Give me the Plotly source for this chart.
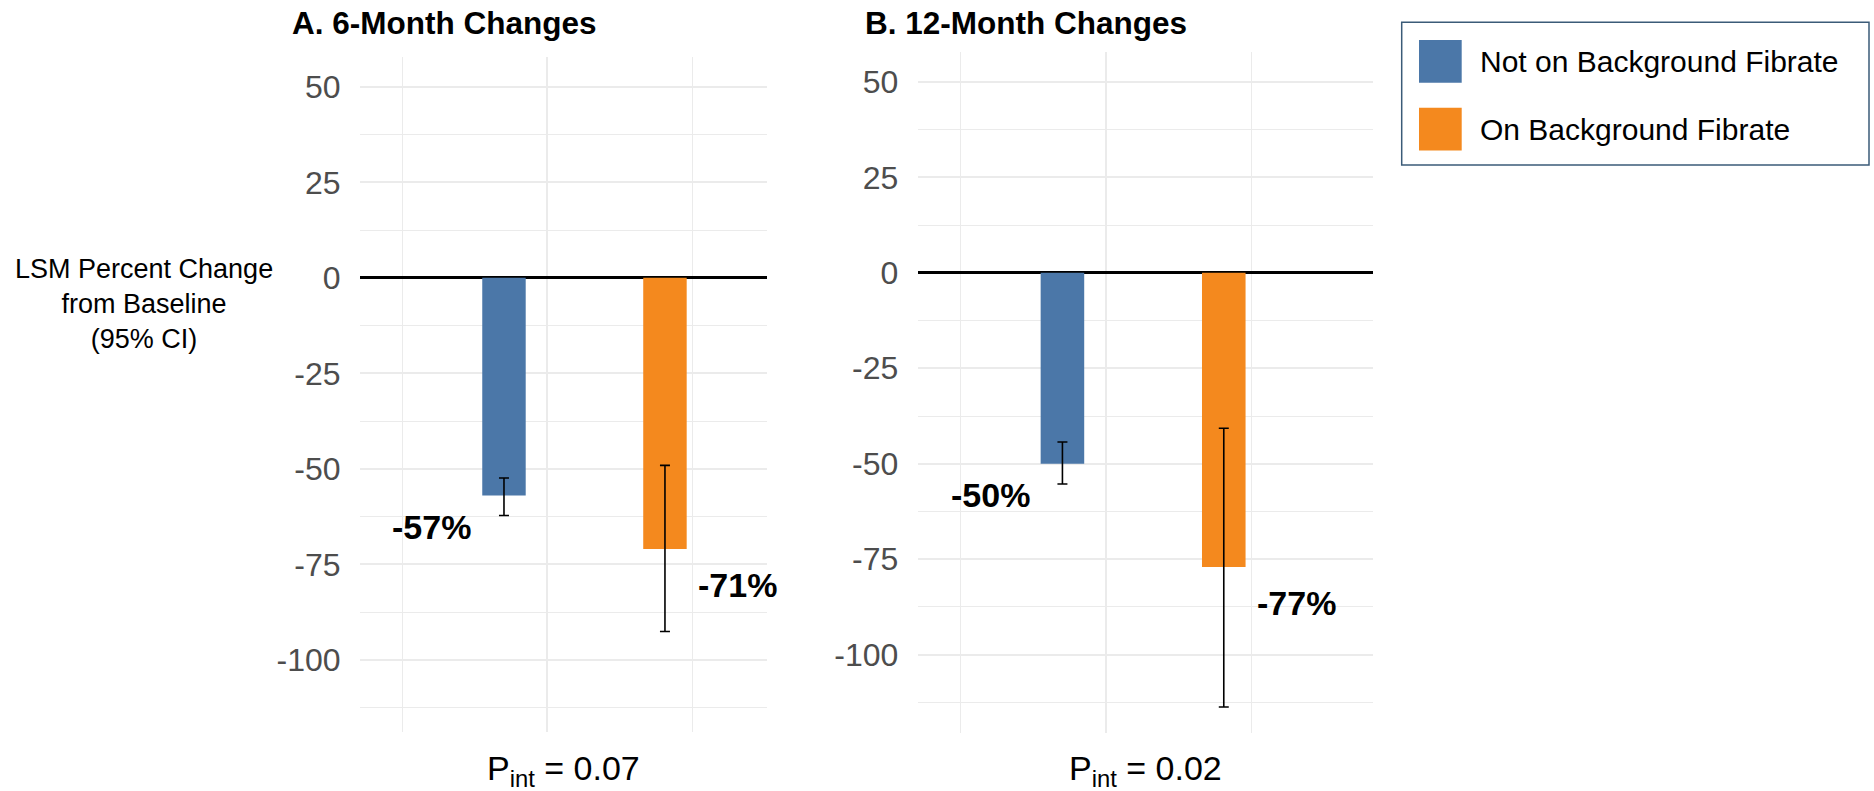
import plotly.graph_objects as go

# ---- data -----------------------------------------------------------------
groups = ["Not on Background Fibrate", "On Background Fibrate"]
panel_titles = ["A. 6-Month Changes", "B. 12-Month Changes"]
p_interaction = ["0.07", "0.02"]

# LSM percent change from baseline with 95% CI, ordered as in `groups`
change_6m = [-57, -71]
ci_low_6m = [-62.2, -92.6]
ci_high_6m = [-52.4, -49.1]

change_12m = [-50, -77]
ci_low_12m = [-55.3, -113.7]
ci_high_12m = [-44.3, -40.7]

y_tick_values = [50, 25, 0, -25, -50, -75, -100]

# ---- styling ----------------------------------------------------------------
W, H = 1874, 791
FONT = "Arial, Liberation Sans, Helvetica, sans-serif"
group_colors = ["#4B77A8", "#F4891E"]
label_shift = [(-72, -31), (73, -36)]   # (xshift, yshift) of the value labels
GRID = "#EBEBEB"

panels = [
    dict(change=change_6m, lo=ci_low_6m, hi=ci_high_6m,
         px=(360.0, 766.7), py=(56.7, 732.0),
         xrange=[0.1056, 2.632], yrange=[-118.9, 57.9], title_x=290),
    dict(change=change_12m, lo=ci_low_12m, hi=ci_high_12m,
         px=(917.7, 1372.7), py=(51.7, 733.0),
         xrange=[0.103, 2.923], yrange=[-120.5, 57.9], title_x=863),
]

slots = [i + 1 for i in range(len(groups))]

fig = go.Figure()
annotations = []
shapes = []
layout_axes = {}

for k, p in enumerate(panels):
    sfx = "" if k == 0 else str(k + 1)
    xa, ya = "x" + sfx, "y" + sfx

    fig.add_trace(go.Bar(
        x=slots, y=p["change"], width=0.27,
        marker=dict(color=group_colors, line=dict(width=0)),
        error_y=dict(type="data", symmetric=False,
                     array=[h - v for h, v in zip(p["hi"], p["change"])],
                     arrayminus=[v - l for v, l in zip(p["change"], p["lo"])],
                     color="black", thickness=1.6, width=5),
        xaxis=xa, yaxis=ya, showlegend=False, hoverinfo="skip",
    ))

    for i, v in enumerate(p["change"]):
        dx, dy = label_shift[i]
        annotations.append(dict(
            x=slots[i], y=v, xref=xa, yref=ya, text=f"{v}%",
            showarrow=False, xshift=dx, yshift=dy,
            xanchor="center", yanchor="middle",
            font=dict(family=FONT, size=34, color="black", weight="bold"),
        ))

    x0, x1 = p["px"]
    y0, y1 = p["py"]
    layout_axes["xaxis" + sfx] = dict(
        domain=[x0 / W, x1 / W], range=p["xrange"], anchor=ya,
        tickmode="array", tickvals=[1.27], showticklabels=False, ticks="",
        showgrid=True, gridcolor=GRID, gridwidth=2, zeroline=False,
        minor=dict(tickmode="array", tickvals=[0.37, 2.17], showgrid=True,
                   gridcolor=GRID, gridwidth=1.4, ticks=""),
        fixedrange=True,
    )
    layout_axes["yaxis" + sfx] = dict(
        domain=[1 - y1 / H, 1 - y0 / H], range=p["yrange"], anchor=xa,
        tickmode="array", tickvals=y_tick_values,
        ticktext=[str(t) for t in y_tick_values],
        tickfont=dict(family=FONT, size=32, color="#4D4D4D"),
        ticks="outside", ticklen=12, tickcolor="rgba(0,0,0,0)",
        showgrid=True, gridcolor=GRID, gridwidth=2,
        minor=dict(dtick=12.5, tick0=0, showgrid=True, gridcolor=GRID,
                   gridwidth=1.4, ticks=""),
        zeroline=True, zerolinecolor="black", zerolinewidth=2.6,
        showline=False, fixedrange=True,
    )

    # panel title
    annotations.append(dict(
        x=p["title_x"] / W, y=1 - 23 / H, xref="paper", yref="paper",
        text=panel_titles[k], showarrow=False, xanchor="left", yanchor="middle",
        font=dict(family=FONT, size=31.5, color="black", weight="bold"),
    ))
    # interaction p-value under each panel
    annotations.append(dict(
        x=(x0 + x1) / 2 / W, y=1 - 770 / H, xref="paper", yref="paper",
        text=f"P<sub>int</sub> = {p_interaction[k]}", showarrow=False,
        xanchor="center", yanchor="middle",
        font=dict(family=FONT, size=34, color="black"),
    ))

# y-axis title (shared, to the left of panel A)
annotations.append(dict(
    x=144 / W, y=1 - 304 / H, xref="paper", yref="paper",
    text="LSM Percent Change<br>from Baseline<br>(95% CI)", showarrow=False,
    xanchor="center", yanchor="middle", align="center",
    font=dict(family=FONT, size=27, color="black"),
))

# legend box
shapes.append(dict(type="rect", xref="paper", yref="paper",
                   x0=1401.7 / W, x1=1869 / W, y0=1 - 165 / H, y1=1 - 22.3 / H,
                   line=dict(color="#3B5B78", width=1.5), fillcolor="white"))
legend_rows = [61.4, 129.2]
for i, g in enumerate(groups):
    cy = legend_rows[i]
    shapes.append(dict(type="rect", xref="paper", yref="paper",
                       x0=1419 / W, x1=1461.7 / W,
                       y0=1 - (cy + 21.4) / H, y1=1 - (cy - 21.4) / H,
                       line=dict(width=0), fillcolor=group_colors[i]))
    annotations.append(dict(
        x=1478 / W, y=1 - cy / H, xref="paper", yref="paper", text=g,
        showarrow=False, xanchor="left", yanchor="middle",
        font=dict(family=FONT, size=30, color="black"),
    ))

fig.update_layout(
    width=W, height=H, autosize=False,
    margin=dict(l=0, r=0, t=0, b=0),
    paper_bgcolor="white", plot_bgcolor="white",
    barmode="overlay", showlegend=False,
    annotations=annotations, shapes=shapes,
    font=dict(family=FONT),
    **layout_axes,
)

fig.write_html("out.html")
